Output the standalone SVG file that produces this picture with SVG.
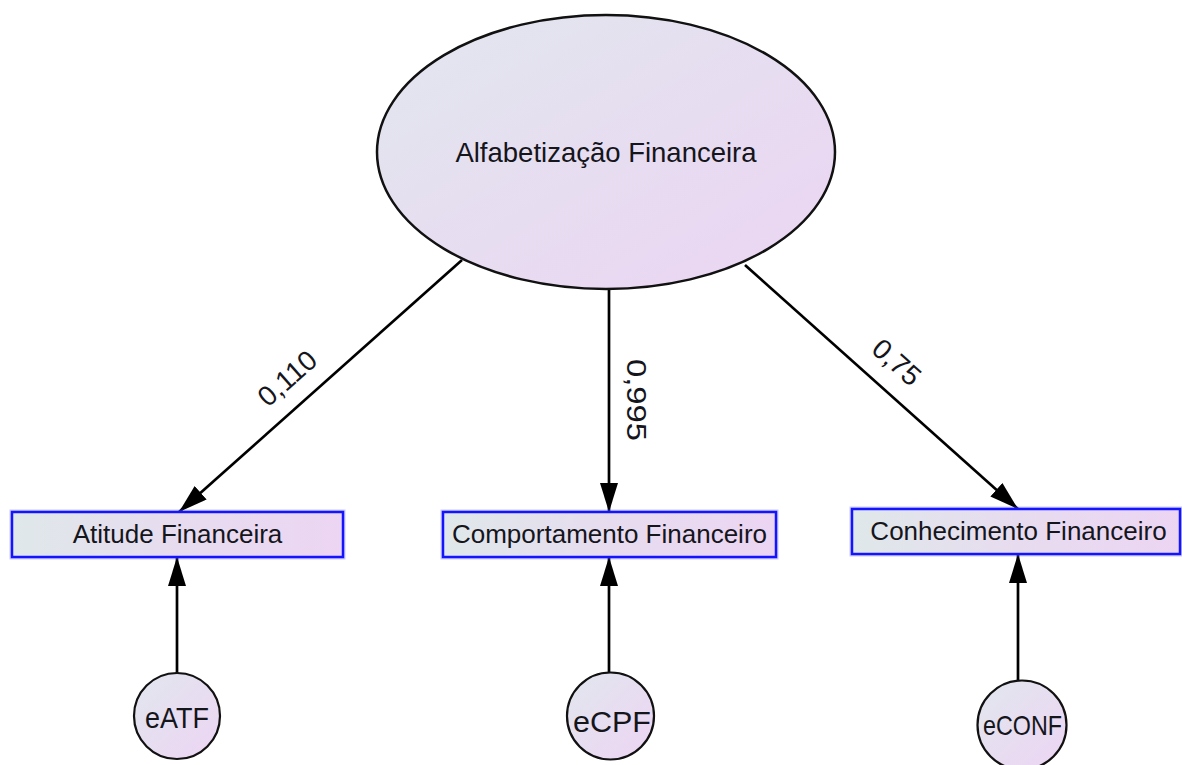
<svg xmlns="http://www.w3.org/2000/svg" width="1182" height="765" viewBox="0 0 1182 765">
  <defs>
    <linearGradient id="gEll" x1="0" y1="0" x2="1" y2="1">
      <stop offset="0" stop-color="#e1e7ee"/>
      <stop offset="1" stop-color="#ecd4f3"/>
    </linearGradient>
    <linearGradient id="gBox" x1="0" y1="0" x2="1" y2="0">
      <stop offset="0" stop-color="#dfe8ea"/>
      <stop offset="0.5" stop-color="#e7dcef"/>
      <stop offset="1" stop-color="#ecd5f3"/>
    </linearGradient>
    <linearGradient id="gCirc" x1="0" y1="0" x2="1" y2="1">
      <stop offset="0" stop-color="#e1e7ee"/>
      <stop offset="1" stop-color="#edd4f3"/>
    </linearGradient>
    <marker id="arr" markerUnits="userSpaceOnUse" markerWidth="32" markerHeight="20" refX="29" refY="9" orient="auto">
      <path d="M0,0 L29,9 L0,18 Z" fill="#000"/>
    </marker>
    <style>
      .lat { fill: url(#gEll); stroke: #111; stroke-width: 2.5; }
      .obs { fill: url(#gBox); stroke: #1414ff; stroke-width: 2.5; }
      .glow { fill: none; stroke: #6b6bff; stroke-opacity: 0.35; stroke-width: 5; }
      .err { fill: url(#gCirc); stroke: #111; stroke-width: 2.2; }
      .t { font-family: "Liberation Sans", Arial, sans-serif; fill: #15151c; text-anchor: middle; }
      .conn line { stroke: #000; stroke-width: 2.7; marker-end: url(#arr); }
    </style>
  </defs>
  <rect width="1182" height="765" fill="#ffffff"/>

  <g id="connectors" class="conn">
    <line x1="462" y1="260" x2="179" y2="512"/>
    <line x1="609" y1="289" x2="609" y2="512"/>
    <line x1="745" y1="265" x2="1018" y2="509"/>
    <line x1="177" y1="673" x2="177" y2="557"/>
    <line x1="609" y1="673" x2="609" y2="557"/>
    <line x1="1018" y1="681" x2="1018" y2="554"/>
  </g>

  <g id="labels">
    <text class="t" font-size="28" transform="translate(287,378) rotate(-41.4)" x="0" y="10">0,110</text>
    <text class="t" font-size="27" transform="translate(637,400) rotate(90)" x="0" y="10" textLength="82" lengthAdjust="spacingAndGlyphs">0,995</text>
    <text class="t" font-size="28" transform="translate(897,362) rotate(41.8)" x="0" y="10">0,75</text>
  </g>

  <g id="node-alfabetizacao">
    <ellipse class="lat" cx="606" cy="152" rx="229" ry="137"/>
    <text class="t" font-size="27.5" x="606" y="162">Alfabetização Financeira</text>
  </g>

  <g id="node-atitude">
    <rect class="glow" x="12" y="512" width="331" height="45"/>
    <rect class="obs" x="12" y="512" width="331" height="45"/>
    <text class="t" font-size="26" x="177.5" y="543">Atitude Financeira</text>
  </g>

  <g id="node-comportamento">
    <rect class="glow" x="443" y="512" width="333" height="45"/>
    <rect class="obs" x="443" y="512" width="333" height="45"/>
    <text class="t" font-size="26" x="609.5" y="543">Comportamento Financeiro</text>
  </g>

  <g id="node-conhecimento">
    <rect class="glow" x="852" y="509" width="328" height="45"/>
    <rect class="obs" x="852" y="509" width="328" height="45"/>
    <text class="t" font-size="26" x="1018.5" y="540">Conhecimento Financeiro</text>
  </g>

  <g id="node-eATF">
    <circle class="err" cx="177" cy="716" r="43"/>
    <text class="t" font-size="29" x="177" y="728" textLength="64" lengthAdjust="spacingAndGlyphs">eATF</text>
  </g>

  <g id="node-eCPF">
    <circle class="err" cx="610.5" cy="716" r="43.5"/>
    <text class="t" font-size="29" x="612" y="732" textLength="78" lengthAdjust="spacingAndGlyphs">eCPF</text>
  </g>

  <g id="node-eCONF">
    <circle class="err" cx="1022" cy="725" r="44.5"/>
    <text class="t" font-size="28" x="1022.5" y="735" textLength="79" lengthAdjust="spacingAndGlyphs">eCONF</text>
  </g>
</svg>
